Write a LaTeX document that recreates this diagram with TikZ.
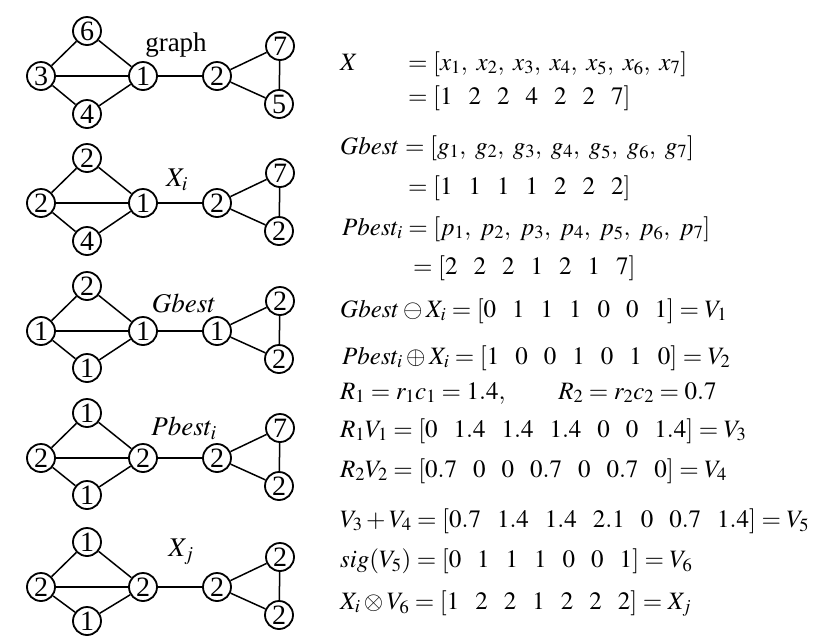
\documentclass[tikz,border=0pt]{standalone}
\usepackage{mathptmx}
\usepackage[no-math]{fontspec}
\setmainfont{Liberation Serif}
\newcommand\numgap{\hspace{16pt}}
\newcommand\cm{,\hspace{6pt}}
\begin{document}
\begin{tikzpicture}[x=1pt,y=-1pt,
  v/.style={circle,draw,line width=1.8pt,minimum size=28pt,inner sep=0pt,font=\fontsize{28}{28}\selectfont,fill=white},
  e/.style={line width=1.5pt},
  lbl/.style={inner sep=0pt,font=\fontsize{27}{27}\selectfont},
  eq/.style={anchor=base west,inner sep=0pt,font=\fontsize{25}{25}\selectfont}]
\useasboundingbox (0,0) rectangle (816,638);
\fill[white] (0,0) rectangle (816,638);
% graphs
\foreach \c/\k/\a/\b/\d/\m/\r/\s/\t/\bo in {76/1/6/3/4/1/2/7/5/38, 203/2/2/2/4/1/2/7/2/38, 331/3/2/1/1/1/1/2/2/37, 458/4/1/2/1/2/2/7/2/37, 587/5/1/2/1/2/2/2/2/34}{
  \node[v] (t\k) at (87,\c-45) {\a};
  \node[v] (l\k) at (41,\c) {\b};
  \node[v] (b\k) at (87,\c+\bo) {\d};
  \node[v] (m\k) at (143,\c) {\m};
  \node[v] (r\k) at (217,\c) {\r};
  \node[v] (u\k) at (280,\c-30) {\s};
  \node[v] (w\k) at (279,\c+28) {\t};
  \draw[e] (t\k) -- (l\k);
  \draw[e] (t\k) -- (m\k);
  \draw[e] (l\k) -- (m\k);
  \draw[e] (l\k) -- (b\k);
  \draw[e] (b\k) -- (m\k);
  \draw[e] (m\k) -- (r\k);
  \draw[e] (r\k) -- (u\k);
  \draw[e] (r\k) -- (w\k);
  \draw[e] (u\k) -- (w\k);
}
\node[lbl] (lab1) at (176,45) {graph};
\node[lbl] (lab2) at (177,180) {$X_i$};
\node[lbl] (lab3) at (184,303) {$Gbest$};
\node[lbl] (lab4) at (184,428) {$Pbest_i$};
\node[lbl] (lab5) at (181,552) {$X_j$};
% equations
\node[eq] (e1a) at (340,70) {$X$};
\node[eq] (e1b) at (408,70) {$=[x_1\cm x_2\cm x_3\cm x_4\cm x_5\cm x_6\cm x_7]$};
\node[eq] (e2) at (408,104) {$=[1\numgap 2\numgap 2\numgap 4\numgap 2\numgap 2\numgap 7]$};
\node[eq] (e3) at (340,154) {$Gbest=[g_1\cm g_2\cm g_3\cm g_4\cm g_5\cm g_6\cm g_7]$};
\node[eq] (e4) at (408,194) {$=[1\numgap 1\numgap 1\numgap 1\numgap 2\numgap 2\numgap 2]$};
\node[eq] (e5) at (342,235) {$Pbest_i=[p_1\cm p_2\cm p_3\cm p_4\cm p_5\cm p_6\cm p_7]$};
\node[eq] (e6) at (413,274) {$=[2\numgap 2\numgap 2\numgap 1\numgap 2\numgap 1\numgap 7]$};
\node[eq] (e7) at (340,317) {$Gbest\ominus X_i=[0\numgap 1\numgap 1\numgap 1\numgap 0\numgap 0\numgap 1]=V_1$};
\node[eq] (e8) at (342,364) {$Pbest_i\oplus X_i=[1\numgap 0\numgap 0\numgap 1\numgap 0\numgap 1\numgap 0]=V_2$};
\node[eq] (e9) at (340,399) {$R_1=r_1c_1=1.4,\qquad R_2=r_2c_2=0.7$};
\node[eq] (e10) at (340,437) {$R_1V_1=[0\numgap 1.4\numgap 1.4\numgap 1.4\numgap 0\numgap 0\numgap 1.4]=V_3$};
\node[eq] (e11) at (340,477) {$R_2V_2=[0.7\numgap 0\numgap 0\numgap 0.7\numgap 0\numgap 0.7\numgap 0]=V_4$};
\node[eq] (e12) at (340,527) {$V_3+V_4=[0.7\numgap 1.4\numgap 1.4\numgap 2.1\numgap 0\numgap 0.7\numgap 1.4]=V_5$};
\node[eq] (e13) at (340,567) {$sig(V_5)=[0\numgap 1\numgap 1\numgap 1\numgap 0\numgap 0\numgap 1]=V_6$};
\node[eq] (e14) at (340,609) {$X_i\otimes V_6=[1\numgap 2\numgap 2\numgap 1\numgap 2\numgap 2\numgap 2]=X_j$};
\end{tikzpicture}
\end{document}
